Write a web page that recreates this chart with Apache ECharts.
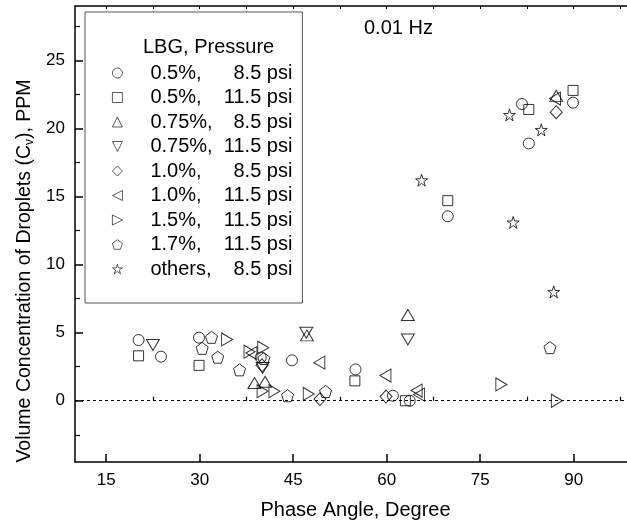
<!DOCTYPE html>
<html>
<head>
<meta charset="utf-8">
<script src="https://cdn.jsdelivr.net/npm/echarts@6/dist/echarts.min.js"></script>
<style>
  html, body { margin: 0; padding: 0; background: #fff; }
  #chart { width: 627px; height: 528px; }
</style>
</head>
<body>
<div id="chart"></div>
<script>
// series values: [phase angle (deg), Cv (ppm)]
const lbg05_85 = [[20.2, 4.46], [23.8, 3.24], [29.9, 4.63], [39.8, 3.17], [44.8, 2.97], [55.0, 2.3], [61.0, 0.37], [63.7, 0.0], [69.8, 13.55], [81.7, 21.8], [82.8, 18.9], [89.9, 21.9]];
const lbg05_115 = [[20.2, 3.3], [29.9, 2.6], [54.9, 1.46], [63.0, 0.0], [69.8, 14.7], [82.8, 21.4], [89.9, 22.8]];
const lbg075_85 = [[38.8, 1.3], [40.5, 1.4], [47.2, 4.8], [63.4, 6.3], [87.2, 22.4]];
const lbg075_115 = [[22.5, 4.1], [40.1, 2.4], [47.1, 5.0], [63.4, 4.5]];
const lbg10_85 = [[40.0, 2.6], [49.3, 0.12], [59.9, 0.31], [87.2, 21.2]];
const lbg10_115 = [[38.3, 3.5], [49.2, 2.8], [59.8, 1.85], [64.8, 0.75], [65.2, 0.45], [87.0, 22.2]];
const lbg15_115 = [[34.4, 4.5], [38.0, 3.6], [40.2, 3.9], [40.1, 0.7], [42.0, 0.7], [47.5, 0.5], [78.4, 1.2], [87.3, 0.0]];
const lbg17_115 = [[30.4, 3.85], [31.9, 4.66], [32.9, 3.2], [36.4, 2.27], [40.3, 3.1], [44.1, 0.37], [50.2, 0.68], [86.2, 3.9]];
const others_85 = [[65.6, 16.2], [79.7, 21.0], [80.3, 13.1], [84.8, 19.9], [86.8, 8.0]];

// tick labels
const xMajor = [15, 30, 45, 60, 75, 90];
const xMinor = [22.5, 37.5, 52.5, 67.5, 82.5, 97.5];
const xTop = [15, 22.5, 30, 37.5, 45, 52.5, 60, 67.5, 75, 82.5, 90, 97.5];
const yMajor = [0, 5, 10, 15, 20, 25];
const yMinor = [-2.5, 2.5, 7.5, 12.5, 17.5, 22.5, 27.5];

const FONT = '"Liberation Sans", Arial, sans-serif';

const STAR = 'path://M50,0 L61.2,34.5 L97.6,34.5 L68.2,55.9 L79.4,90.5 L50,69.1 L20.6,90.5 L31.8,55.9 L2.4,34.5 L38.8,34.5 Z';
const PENTA = 'path://M50,0 L97.6,34.5 L79.4,90.5 L20.6,90.5 L2.4,34.5 Z';
const TRI_UP = 'path://M0,10 L5,0 L10,10 Z';
const TRI_DN = 'path://M0,0 L10,0 L5,10 Z';
const TRI_LT = 'path://M10,0 L10,10 L0,5 Z';
const TRI_RT = 'path://M0,0 L0,10 L10,5 Z';

const groups = [
  { name: '0.5%, 8.5 psi', data: lbg05_85, symbol: 'circle', size: 11 },
  { name: '0.5%, 11.5 psi', data: lbg05_115, symbol: 'rect', size: 10 },
  { name: '0.75%, 8.5 psi', data: lbg075_85, symbol: TRI_UP, size: [13, 11] },
  { name: '0.75%, 11.5 psi', data: lbg075_115, symbol: TRI_DN, size: [13, 11] },
  { name: '1.0%, 8.5 psi', data: lbg10_85, symbol: 'diamond', size: [12, 13] },
  { name: '1.0%, 11.5 psi', data: lbg10_115, symbol: TRI_LT, size: [11, 13] },
  { name: '1.5%, 11.5 psi', data: lbg15_115, symbol: TRI_RT, size: [11, 13] },
  { name: '1.7%, 11.5 psi', data: lbg17_115, symbol: PENTA, size: 12 },
  { name: 'others, 8.5 psi', data: others_85, symbol: STAR, size: 12 }
];

const chart = echarts.init(document.getElementById('chart'));

const series = groups.map((g, i) => {
  const s = {
    name: g.name,
    type: 'scatter',
    data: g.data,
    symbol: g.symbol,
    symbolSize: g.size,
    itemStyle: { color: 'rgba(0,0,0,0)', borderColor: '#000', borderWidth: 1 },
    emphasis: { disabled: true }
  };
  if (i === 0) {
    s.markLine = {
      silent: true,
      symbol: ['none', 'none'],
      label: { show: false },
      lineStyle: { color: '#000', width: 1, type: [3, 3] },
      data: [{ yAxis: 0 }]
    };
  }
  return s;
});

chart.setOption({
  animation: false,
  title: [
    { text: 'LBG, Pressure', left: 143, top: 37, padding: 0,
      textStyle: { fontSize: 20, fontWeight: 'normal', color: '#000', fontFamily: FONT } },
    { text: '0.01 Hz', left: 364, top: 18, padding: 0,
      textStyle: { fontSize: 20, fontWeight: 'normal', color: '#000', fontFamily: FONT } }
  ],
  legend: {
    orient: 'vertical',
    left: 85,
    top: 12,
    padding: [51, 10, 24, 27],
    itemGap: 4.5,
    itemWidth: 10,
    itemHeight: 10,
    borderColor: '#555',
    borderWidth: 1,
    selectedMode: false,
    itemStyle: { color: 'rgba(0,0,0,0)', borderColor: '#000', borderWidth: 0.8 },
    formatter: name => {
      const p = name.split(', ');
      return '{a|' + p[0] + ',}{b|' + p[1] + '}';
    },
    textStyle: {
      fontFamily: FONT, fontSize: 20, color: '#000',
      rich: {
        a: { fontFamily: FONT, fontSize: 20, lineHeight: 20, width: 70, padding: [0, 0, 0, 23] },
        b: { fontFamily: FONT, fontSize: 20, lineHeight: 20, width: 72, align: 'right' }
      }
    }
  },
  grid: { left: 75, top: 6, width: 561, height: 456, outerBoundsMode: 'none', containLabel: false },
  xAxis: [
    {
      type: 'value', min: 10, max: 100, position: 'bottom',
      name: 'Phase Angle, Degree', nameLocation: 'middle', nameGap: 38,
      nameTextStyle: { fontFamily: FONT, fontSize: 20, color: '#000' },
      axisLine: { onZero: false, lineStyle: { color: '#000', width: 1.5 } },
      axisTick: { inside: true, length: 8, customValues: xMajor, lineStyle: { color: '#000', width: 1.5 } },
      axisLabel: { customValues: xMajor, fontFamily: FONT, fontSize: 17, color: '#000', margin: 10 },
      splitLine: { show: false }
    },
    {
      type: 'value', min: 10, max: 100, position: 'bottom',
      axisLine: { show: false },
      axisTick: { inside: true, length: 4, customValues: xMinor, lineStyle: { color: '#000', width: 1.2 } },
      axisLabel: { show: false },
      splitLine: { show: false }
    },
    {
      type: 'value', min: 10, max: 100, position: 'top',
      axisLine: { onZero: false, lineStyle: { color: '#000', width: 1.5 } },
      axisTick: { inside: true, length: 3, customValues: xTop, lineStyle: { color: '#000', width: 1 } },
      axisLabel: { show: false },
      splitLine: { show: false }
    }
  ],
  yAxis: [
    {
      type: 'value', min: -4.5, max: 29, position: 'left',
      name: 'Volume Concentration of Droplets (C{s|v}), PPM',
      nameLocation: 'middle', nameGap: 27,
      nameTextStyle: {
        fontFamily: FONT, fontSize: 19.5, color: '#000', lineHeight: 22,
        padding: [0, 74, 0, 0],
        rich: { s: { fontFamily: FONT, fontSize: 12, lineHeight: 12, verticalAlign: 'bottom' } }
      },
      axisLine: { onZero: false, lineStyle: { color: '#000', width: 1.5 } },
      axisTick: { inside: true, length: 8, customValues: yMajor, lineStyle: { color: '#000', width: 1.5 } },
      axisLabel: { customValues: yMajor, fontFamily: FONT, fontSize: 17, color: '#000', margin: 10 },
      splitLine: { show: false }
    },
    {
      type: 'value', min: -4.5, max: 29, position: 'left',
      axisLine: { show: false },
      axisTick: { inside: true, length: 5, customValues: yMinor, lineStyle: { color: '#000', width: 1.2 } },
      axisLabel: { show: false },
      splitLine: { show: false }
    }
  ],
  series: series
});
</script>
</body>
</html>
